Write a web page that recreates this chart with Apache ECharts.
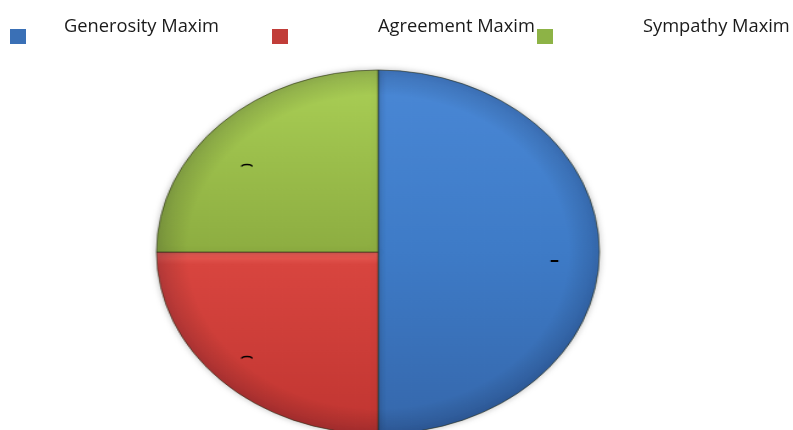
<!DOCTYPE html>
<html>
<head>
<meta charset="utf-8">
<script src="https://cdn.jsdelivr.net/npm/echarts@6/dist/echarts.min.js"></script>
<style>
  html, body { margin: 0; padding: 0; background: #ffffff; overflow: hidden; }
  #wrap { position: relative; width: 793px; height: 430px; overflow: hidden; background: #fff; }
  #pie { position: absolute; left: 178px; top: 0; width: 400px; height: 430px;
         transform: scaleX(1.217); transform-origin: 200px 252px; }
  #leg { position: absolute; left: 0; top: 0; width: 793px; height: 430px; }
</style>
</head>
<body>
<div id="wrap">
  <div id="pie"></div>
  <div id="leg"></div>
</div>
<script>
// ---- data ----
const categories = ['Generosity Maxim', 'Agreement Maxim', 'Sympathy Maxim'];
const values = [50, 25, 25];
const labelMarks = ['\u2013', '\u2322', '\u2322'];

// ---- styles ----
const sliceGradients = [
  [[0, '#4a88d6'], [0.5, '#3e7bc7'], [1, '#3567ab']],
  [[0, '#ec625b'], [0.07, '#d8453f'], [1, '#c03531']],
  [[0, '#abd056'], [0.5, '#9bbe4b'], [1, '#8dad41']]
];
const legendColors = ['#3a70b6', '#c13d39', '#8db346'];
const legendLeft = [10, 272, 537];
const legendTextPad = [33, 85, 85];
const labelPads = [[0, 0, 0, 18], [0, 22, 0, 0], [0, 22, 0, 0]];

function grad(stops) {
  return new echarts.graphic.LinearGradient(0, 0, 0, 1,
    stops.map(s => ({ offset: s[0], color: s[1] })));
}

const pieChart = echarts.init(document.getElementById('pie'), null, { renderer: 'canvas' });
pieChart.setOption({
  animation: false,
  series: [
    {
      type: 'pie',
      center: [200, 252],
      radius: 182,
      startAngle: 90,
      clockwise: true,
      silent: true,
      label: { show: false },
      labelLine: { show: false },
      itemStyle: {
        borderColor: 'rgba(45,50,20,0.6)',
        borderWidth: 1,
        shadowBlur: 6,
        shadowColor: 'rgba(0,0,0,0.25)'
      },
      data: categories.map((n, i) => ({
        name: n, value: values[i],
        itemStyle: { color: grad(sliceGradients[i]) }
      }))
    },
    {
      type: 'pie',
      center: [200, 252],
      radius: 182,
      silent: true,
      label: { show: false },
      labelLine: { show: false },
      itemStyle: {
        color: new echarts.graphic.RadialGradient(0.5, 0.5, 0.5, [
          { offset: 0, color: 'rgba(0,0,0,0)' },
          { offset: 0.86, color: 'rgba(0,0,0,0)' },
          { offset: 1, color: 'rgba(0,0,30,0.16)' }
        ])
      },
      data: [{ name: 'edge', value: 1 }]
    },
    {
      type: 'pie',
      center: [200, 261],
      radius: [0, 266],
      startAngle: 90,
      clockwise: true,
      silent: true,
      itemStyle: { color: 'rgba(0,0,0,0)' },
      label: {
        show: true,
        position: 'inside',
        color: '#000',
        fontSize: 16,
        fontWeight: 'bold',
        fontFamily: 'DejaVu Sans',
        formatter: p => labelMarks[p.dataIndex]
      },
      labelLine: { show: false },
      data: categories.map((n, i) => ({
        name: n, value: values[i],
        label: { padding: labelPads[i] }
      }))
    }
  ]
});

const legChart = echarts.init(document.getElementById('leg'), null, { renderer: 'canvas' });
legChart.setOption({
  animation: false,
  legend: categories.map((n, i) => ({
    data: [n],
    left: legendLeft[i],
    top: 18,
    padding: 0,
    icon: 'rect',
    itemWidth: 16,
    itemHeight: 15,
    selectedMode: false,
    formatter: '{t|{name}}',
    textStyle: {
      fontFamily: 'Open Sans',
      fontSize: 18.3,
      color: '#1a1a1a',
      rich: {
        t: {
          fontFamily: 'Open Sans',
          fontSize: 18.3,
          color: '#1a1a1a',
          padding: [0, 0, 19, legendTextPad[i]]
        }
      }
    }
  })),
  series: [{
    type: 'pie',
    radius: 0,
    center: [-100, -100],
    label: { show: false },
    labelLine: { show: false },
    data: categories.map((n, i) => ({ name: n, value: values[i], itemStyle: { color: legendColors[i] } }))
  }]
});
</script>
</body>
</html>
